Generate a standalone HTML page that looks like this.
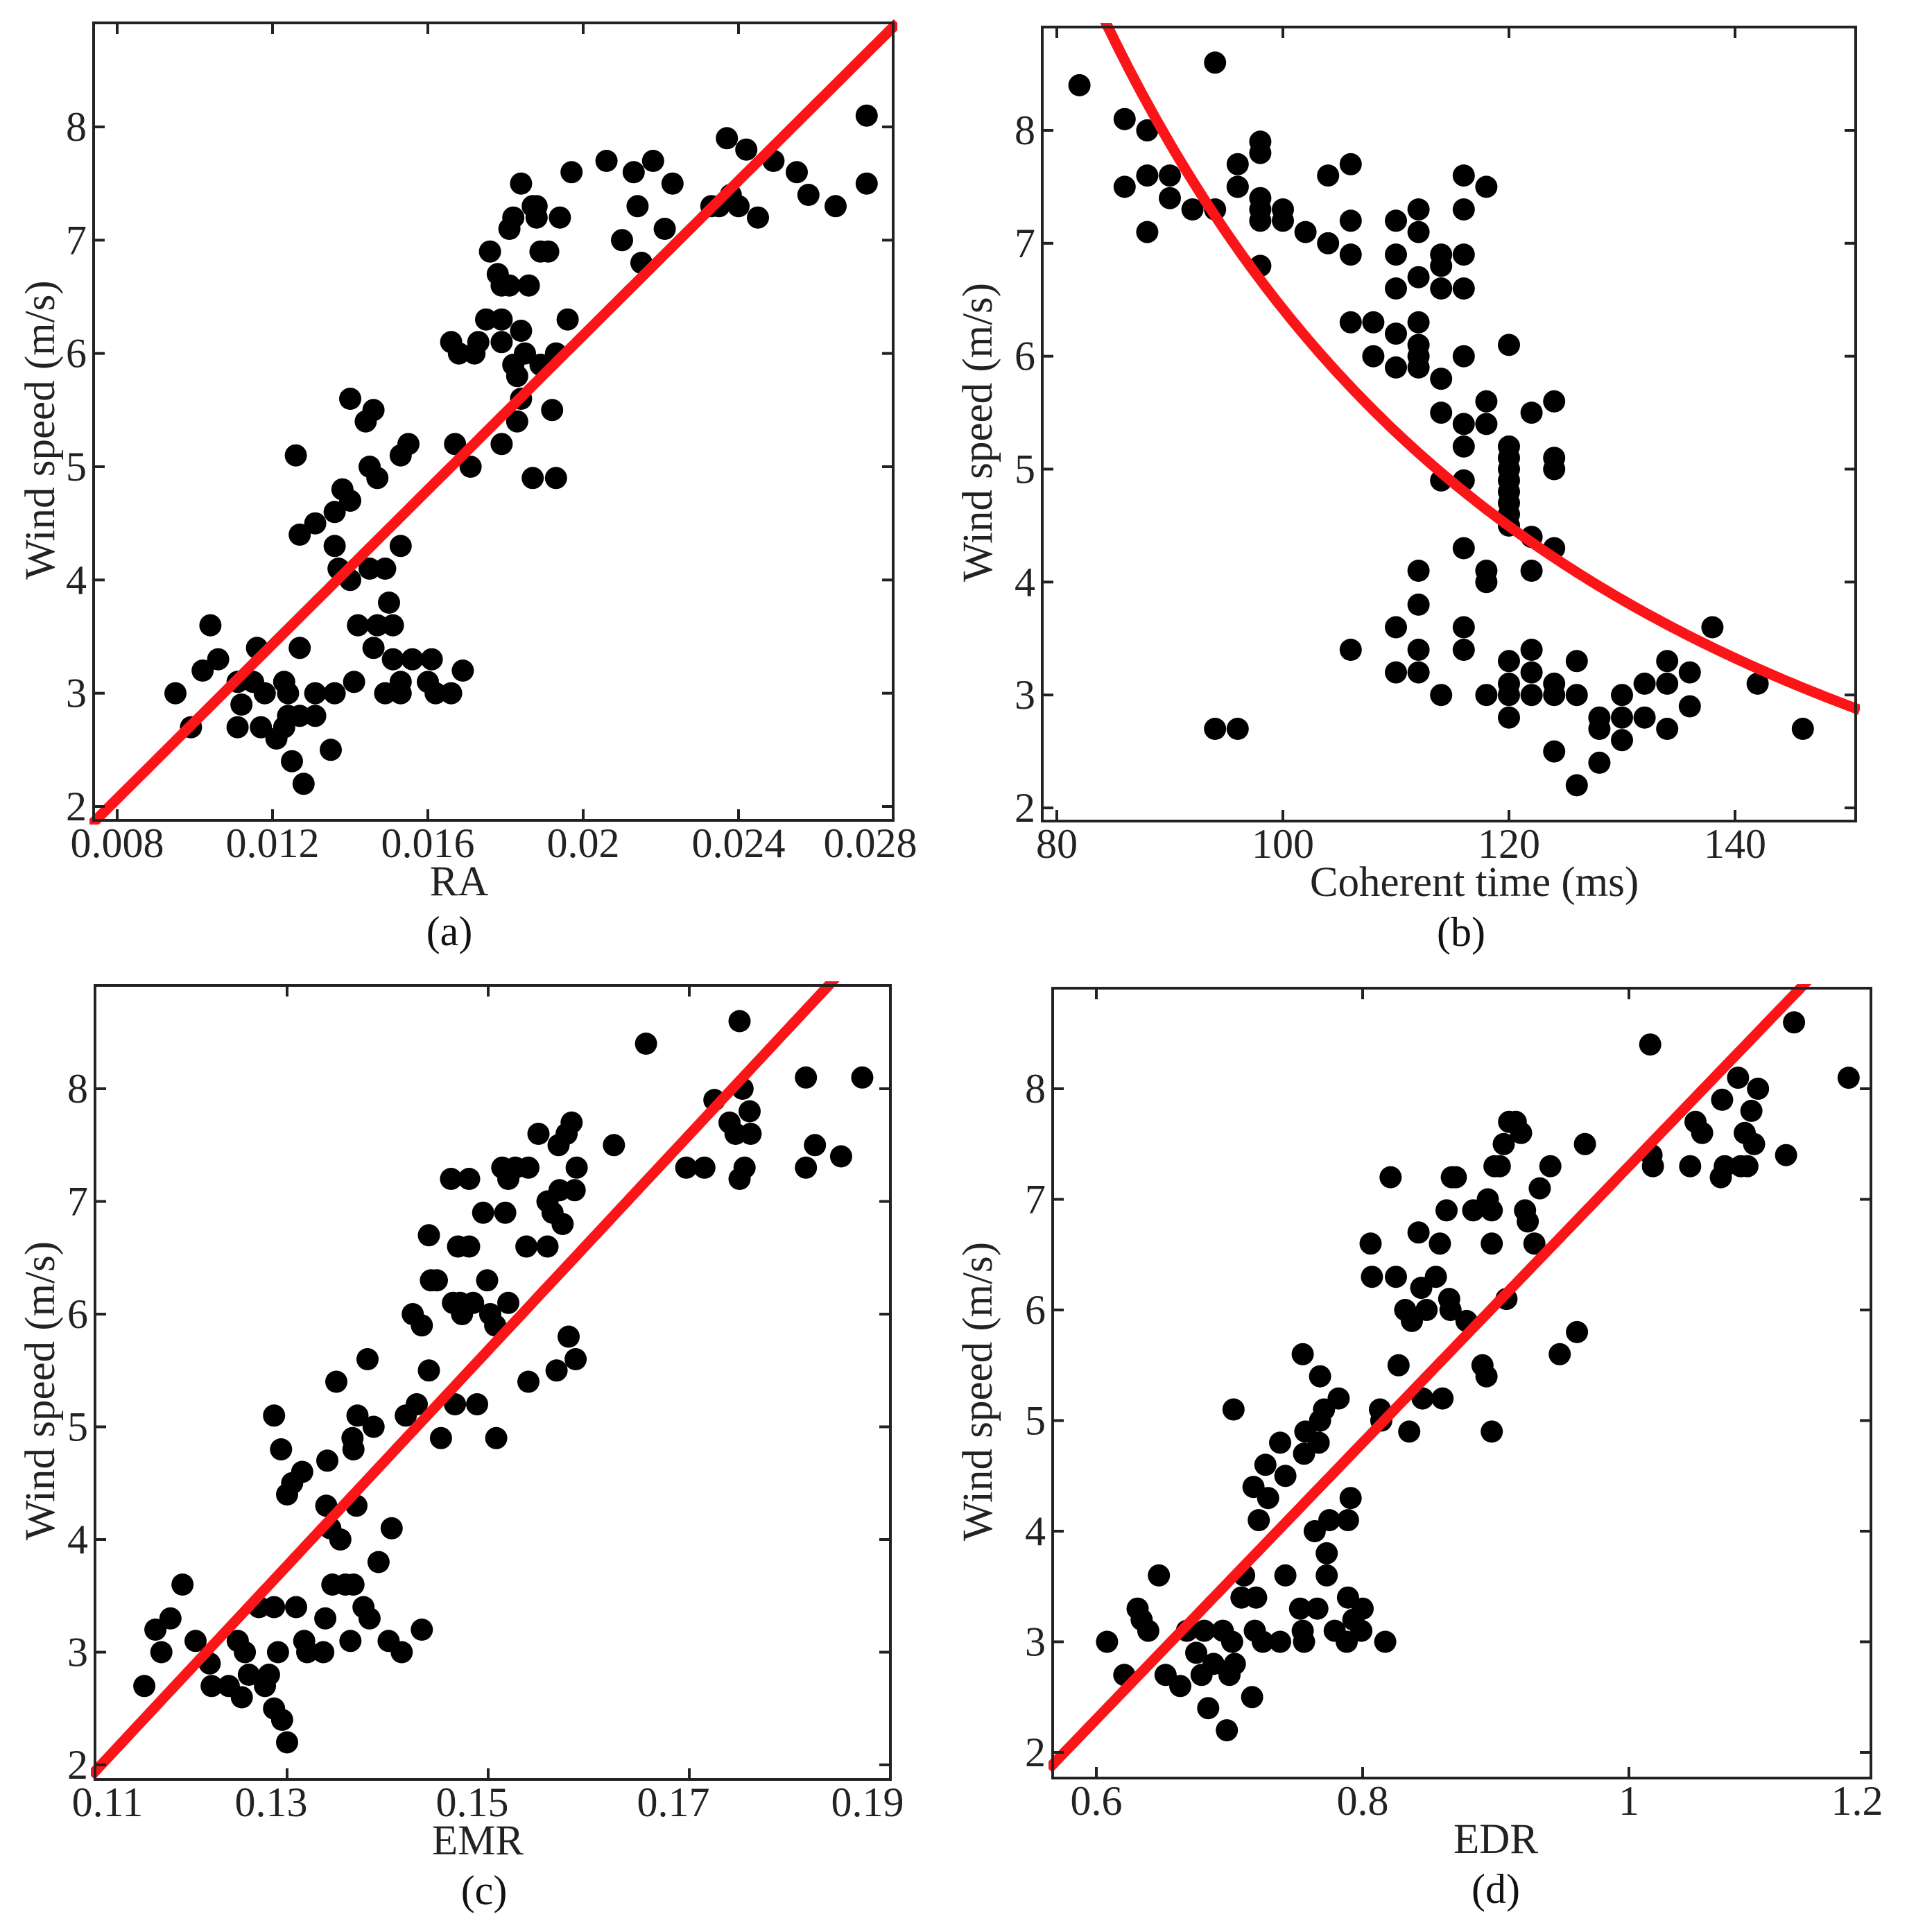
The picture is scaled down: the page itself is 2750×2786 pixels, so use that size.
<!DOCTYPE html>
<html><head><meta charset="utf-8">
<style>
html,body{margin:0;padding:0;background:#fff;}
svg{display:block;font-family:"Liberation Serif",serif;}
</style></head>
<body>
<svg id="fig" width="2750" height="2786" viewBox="0 0 2750 2786" xmlns="http://www.w3.org/2000/svg"></svg>
<script>
// ---- Panel (a): RA vs wind speed ----
const raX=[0.0095,0.0099,0.0102,0.0104,0.0106,0.0111,0.0112,0.0111,0.0116,0.0115,0.0118,0.0117,0.0121,0.0123,0.0123,0.0124,0.0124,0.0125,0.0128,0.0126,0.0127,0.0127,0.0127,0.0131,0.0131,0.0131,0.0135,0.0136,0.0136,0.0136,0.0137,0.0138,0.0140,0.0140,0.0140,0.0141,0.0142,0.0144,0.0145,0.0145,0.0146,0.0146,0.0147,0.0147,0.0149,0.0149,0.0150,0.0151,0.0151,0.0153,0.0153,0.0153,0.0153,0.0155,0.0156,0.0160,0.0161,0.0162,0.0166,0.0166,0.0167,0.0168,0.0169,0.0171,0.0172,0.0173,0.0175,0.0176,0.0178,0.0179,0.0179,0.0179,0.0179,0.0181,0.0181,0.0182,0.0182,0.0183,0.0183,0.0184,0.0184,0.0184,0.0185,0.0186,0.0187,0.0187,0.0188,0.0188,0.0189,0.0189,0.0191,0.0192,0.0193,0.0193,0.0194,0.0196,0.0197,0.0206,0.0210,0.0213,0.0214,0.0215,0.0218,0.0221,0.0223,0.0233,0.0235,0.0237,0.0238,0.0240,0.0242,0.0245,0.0249,0.0255,0.0258,0.0265,0.0273,0.0273];
const raY=[3.0,2.7,3.2,3.6,3.3,2.7,2.9,3.1,3.4,3.1,3.0,2.7,2.6,2.7,3.1,3.0,2.8,2.4,2.2,5.1,4.4,3.4,2.8,3.0,2.8,4.5,2.5,3.0,4.6,4.3,4.1,4.8,4.7,4.0,5.6,3.1,3.6,5.4,5.0,4.1,5.5,3.4,4.9,3.6,3.0,4.1,3.8,3.6,3.3,3.1,3.0,4.3,5.1,5.2,3.3,3.1,3.3,3.0,3.0,6.1,5.2,6.0,3.2,5.0,6.0,6.1,6.3,6.9,6.7,6.6,6.1,6.3,5.2,6.6,7.1,7.2,5.9,5.8,5.4,5.6,7.5,6.2,6.0,6.6,7.3,4.9,7.3,7.2,6.9,5.9,6.9,5.5,6.0,4.9,7.2,6.3,7.6,7.7,7.0,7.6,7.3,6.8,7.7,7.1,7.5,7.3,7.3,7.9,7.4,7.3,7.8,7.2,7.7,7.6,7.4,7.3,7.5,8.1];
const raTicks=[0.008,0.012,0.016,0.02,0.024,0.028];
const raTickLabels=["0.008","0.012","0.016","0.02","0.024","0.028"];
const raFit=[341,-0.66]; // slope, intercept

// ---- Panel (b): coherent time vs wind speed ----
const ctX=[82,86,86,88,88,88,90,90,92,94,94,94,96,96,96,96,98,98,98,98,98,98,100,100,102,104,104,106,106,106,106,106,108,108,
110,110,110,110,110,110,110,112,112,112,112,112,112,112,112,112,112,112,114,114,114,114,114,114,114,
116,116,116,116,116,116,116,116,116,116,116,118,118,118,118,118,118,
120,120,120,120,120,120,120,120,120,120,120,120,120,122,122,122,122,122,122,124,124,124,124,124,124,124,
126,126,126,128,128,128,130,130,130,132,132,134,134,134,136,136,138,142,146];
const ctY=[8.4,8.1,7.5,8.0,7.6,7.1,7.6,7.4,7.3,8.6,7.3,2.7,7.7,7.5,2.7,7.5,7.9,7.8,7.4,7.3,7.2,6.8,7.3,7.2,7.1,7.6,7.0,7.7,7.2,6.9,6.3,3.4,6.3,6.0,
7.2,6.9,6.6,6.2,5.9,3.6,3.2,7.3,7.1,6.7,6.3,6.1,6.0,5.9,4.1,3.8,3.4,3.2,6.9,6.8,6.6,5.8,5.5,4.9,3.0,
7.6,7.3,6.9,6.6,6.0,5.4,5.2,4.9,4.3,3.6,3.4,7.5,5.6,5.4,4.1,4.0,3.0,
6.1,5.2,5.1,5.0,4.9,4.8,4.7,4.6,4.5,3.3,3.1,3.0,2.8,5.5,4.4,4.1,3.4,3.2,3.0,5.6,5.1,5.0,4.3,3.1,3.0,2.5,
3.3,3.0,2.2,2.8,2.7,2.4,3.0,2.8,2.6,3.1,2.8,3.3,3.1,2.7,3.2,2.9,3.6,3.1,2.7];
const ctTicks=[80,100,120,140];
const ctTickLabels=["80","100","120","140"];
const ctFit=[8.92,84.5,-1.954]; // y = A*(x/x0)^p

// ---- Panel (c): EMR vs wind speed ----
const emrX=[0.1158,0.1169,0.1175,0.1184,0.1196,0.1209,0.1223,0.1225,0.1242,0.1251,0.1255,0.1258,0.1262,0.1272,0.1278,0.1282,0.1287,0.1287,0.1287,0.1291,0.1294,0.1295,0.1300,0.1300,0.1305,0.1309,0.1315,0.1317,0.1320,0.1336,0.1338,0.1339,0.1340,0.1343,0.1345,0.1349,0.1353,0.1358,0.1363,0.1365,0.1366,0.1366,0.1369,0.1370,0.1376,0.1380,0.1382,0.1386,0.1391,0.1401,0.1404,0.1414,0.1418,0.1425,0.1429,0.1434,0.1434,0.1441,0.1441,0.1443,0.1449,0.1453,0.1463,0.1465,0.1467,0.1470,0.1472,0.1474,0.1481,0.1481,0.1485,0.1489,0.1495,0.1499,0.1502,0.1507,0.1508,0.1514,0.1517,0.1520,0.1520,0.1527,0.1538,0.1540,0.1540,0.1550,0.1559,0.1559,0.1564,0.1568,0.1570,0.1571,0.1574,0.1578,0.1580,0.1583,0.1586,0.1587,0.1588,0.1625,0.1657,0.1697,0.1715,0.1725,0.1740,0.1746,0.1750,0.1750,0.1753,0.1755,0.1760,0.1761,0.1816,0.1816,0.1825,0.1851,0.1872];
const emrY=[2.7,3.2,3.0,3.3,3.6,3.1,2.9,2.7,2.7,3.1,2.6,3.0,2.8,3.4,2.7,2.8,5.1,3.4,2.5,3.0,4.8,2.4,2.2,4.4,4.5,3.4,4.6,3.1,3.0,3.0,3.3,4.3,4.7,4.1,3.6,5.4,4.0,3.6,3.1,4.9,4.8,3.6,4.3,5.1,3.4,5.6,3.3,5.0,3.8,3.1,4.1,3.0,5.1,6.0,5.2,5.9,3.2,6.7,5.5,6.3,6.3,4.9,7.2,6.1,5.2,6.6,6.1,6.0,6.6,7.2,6.1,5.2,6.9,6.3,6.0,5.9,4.9,7.3,6.9,7.2,6.1,7.3,6.6,7.3,5.4,7.6,7.0,6.6,6.9,5.5,7.5,7.1,6.8,7.6,5.8,7.7,7.1,5.6,7.3,7.5,8.4,7.3,7.3,7.9,7.7,7.6,8.6,7.2,8.0,7.3,7.8,7.6,8.1,7.3,7.5,7.4,8.1];
const emrTicks=[0.11,0.13,0.15,0.17,0.19];
const emrTickLabels=["0.11","0.13","0.15","0.17","0.19"];
const emrFit=[95.6,-8.66];

// ---- Panel (d): EDR vs wind speed ----
const edrX=[0.608,0.621,0.631,0.634,0.639,0.647,0.652,0.663,0.668,0.675,0.679,0.681,0.684,0.688,0.695,0.698,0.700,0.702,0.703,0.704,0.711,0.709,0.717,0.718,0.719,0.720,0.722,0.725,0.727,0.729,0.738,0.738,0.742,0.742,0.753,0.755,0.755,0.756,0.756,0.757,0.764,0.766,0.767,0.768,0.768,0.771,0.773,0.773,0.775,0.779,0.782,0.788,0.789,0.789,0.791,0.793,0.799,0.800,0.806,0.807,0.813,0.814,0.817,0.821,0.825,0.827,0.832,0.835,0.837,0.842,0.844,0.845,0.848,0.855,0.858,0.860,0.863,0.865,0.866,0.867,0.870,0.878,0.883,0.890,0.893,0.894,0.897,0.897,0.897,0.899,0.903,0.906,0.908,0.910,0.915,0.919,0.922,0.924,0.929,0.933,0.941,0.948,0.961,0.967,1.016,1.017,1.018,1.046,1.050,1.055,1.069,1.070,1.072,1.082,1.084,1.087,1.089,1.092,1.094,1.097,1.118,1.124,1.165];
const edrY=[3.0,2.7,3.3,3.2,3.1,3.6,2.7,2.6,3.1,2.9,2.7,3.1,2.4,2.8,3.1,2.2,2.7,3.0,5.1,2.8,3.6,3.4,2.5,4.4,3.1,3.4,4.1,3.0,4.6,4.3,3.0,4.8,4.5,3.6,3.3,5.6,3.1,3.0,4.7,4.9,4.0,3.3,4.8,5.4,5.0,5.1,3.8,3.6,4.1,3.1,5.2,3.0,4.1,3.4,4.3,3.2,3.1,3.3,6.6,6.3,5.1,5.0,3.0,7.2,6.3,5.5,6.0,4.9,5.9,6.7,6.2,5.2,6.0,6.3,6.6,5.2,6.9,6.1,6.0,7.2,7.2,5.9,6.9,5.5,5.4,7.0,6.9,4.9,6.6,7.3,7.3,7.5,6.1,7.7,7.7,7.6,6.9,6.8,6.6,7.1,7.3,5.6,5.8,7.5,8.4,7.4,7.3,7.3,7.7,7.6,7.2,7.9,7.3,8.1,7.3,7.6,7.3,7.8,7.5,8.0,7.4,8.6,8.1];
const edrTicks=[0.6,0.8,1.0,1.2];
const edrTickLabels=["0.6","0.8","1","1.2"];
const edrFit=[12.5,-5.2];

const yTicks=[2,3,4,5,6,7,8];
const yTickLabels=["2","3","4","5","6","7","8"];

const NS="http://www.w3.org/2000/svg";
const svg=document.getElementById('fig');
function mk(tag,attrs,parent){const e=document.createElementNS(NS,tag);for(const k in attrs)e.setAttribute(k,attrs[k]);parent.appendChild(e);return e;}

const panels=[
 {key:'a',box:[135,33,1288,1183],xv:[0.008,0.028],xp:[169,1289],yv:[2,8],yp:[1163,183],xs:raX,ys:raY,ticks:raTicks,tl:raTickLabels,lblShift:0,rPad:33,
  fit:x=>raFit[0]*x+raFit[1],title:'RA',tx:662,cap:'(a)',cx:648,ytx:58},
 {key:'b',box:[1503,39,2676,1184],xv:[80,140],xp:[1524,2502],yv:[2,8],yp:[1165,188],xs:ctX,ys:ctY,ticks:ctTicks,tl:ctTickLabels,lblShift:0,rPad:33,
  fit:x=>ctFit[0]*Math.pow(x/ctFit[1],ctFit[2]),title:'Coherent time (ms)',tx:2126,cap:'(b)',cx:2107,ytx:1410},
 {key:'c',box:[137,1421,1284,2566],xv:[0.13,0.17],xp:[414,994],yv:[2,8],yp:[2545,1570],xs:emrX,ys:emrY,ticks:emrTicks,tl:emrTickLabels,lblShift:-23,rPad:33,
  fit:x=>emrFit[0]*x+emrFit[1],title:'EMR',tx:689,cap:'(c)',cx:698,ytx:58},
 {key:'d',box:[1518,1425,2698,2564],xv:[0.6,1.0],xp:[1581,2349],yv:[2,8],yp:[2527,1570],xs:edrX,ys:edrY,ticks:edrTicks,tl:edrTickLabels,lblShift:0,rPad:20,
  fit:x=>edrFit[0]*x+edrFit[1],title:'EDR',tx:2157,cap:'(d)',cx:2157,ytx:1410}
];

panels.forEach(p=>{
  const [L,T,R,B]=p.box;
  const sx=v=>p.xp[0]+(v-p.xv[0])*(p.xp[1]-p.xp[0])/(p.xv[1]-p.xv[0]);
  const sy=v=>p.yp[0]+(v-p.yv[0])*(p.yp[1]-p.yp[0])/(p.yv[1]-p.yv[0]);
  const g=mk('g',{},svg);
  
  
  const clip=mk('clipPath',{id:'clip-'+p.key},g);
  mk('rect',{x:L-6,y:T-6,width:R-L+12,height:B-T+12},clip);

  const pts=mk('g',{},g);
  
  
  for(let i=0;i<p.xs.length;i++){
    const c=mk('circle',{cx:sx(p.xs[i]).toFixed(1),cy:sy(p.ys[i]).toFixed(1),r:16,fill:'#000'},pts);
    
    
  }
  const x0=p.xv[0]+(L-6-p.xp[0])*(p.xv[1]-p.xv[0])/(p.xp[1]-p.xp[0]);
  const x1=p.xv[0]+(R+6-p.xp[0])*(p.xv[1]-p.xv[0])/(p.xp[1]-p.xp[0]);
  let d='';
  for(let k=0;k<=200;k++){const xv=x0+(x1-x0)*k/200;d+=(k?'L':'M')+sx(xv).toFixed(1)+' '+sy(p.fit(xv)).toFixed(1);}
  const fl=mk('path',{d:d,fill:'none',stroke:'#fb1518','stroke-width':15,'clip-path':'url(#clip-'+p.key+')'},g);
  
  

  const fr=mk('rect',{x:L,y:T,width:R-L,height:B-T,fill:'none',stroke:'#222','stroke-width':4},g);
  
  

  p.ticks.forEach((tv,i)=>{
    const x=sx(tv);
    if(x>L+2&&x<R-2){
      mk('line',{x1:x,y1:B,x2:x,y2:B-16,stroke:'#222','stroke-width':4},g);
      mk('line',{x1:x,y1:T,x2:x,y2:T+16,stroke:'#222','stroke-width':4},g);
    }
    let lx=Math.min(Math.max(x+p.lblShift,L+18),R-p.rPad);
    const t=mk('text',{x:lx,y:B+53,'font-size':60,'text-anchor':'middle',fill:'#222'},g);
    t.textContent=p.tl[i];
    
    
  });
  yTicks.forEach((tv,i)=>{
    const y=sy(tv);
    mk('line',{x1:L,y1:y,x2:L+16,y2:y,stroke:'#222','stroke-width':4},g);
    mk('line',{x1:R,y1:y,x2:R-16,y2:y,stroke:'#222','stroke-width':4},g);
    const t=mk('text',{x:L-10,y:y+20,'font-size':60,'text-anchor':'end',fill:'#222'},g);
    t.textContent=yTickLabels[i];
    
    
  });
  const xt=mk('text',{x:p.tx,y:B+108,'font-size':61,'text-anchor':'middle',fill:'#222'},g);
  xt.textContent=p.title;
  
  
  const cy=(T+B)/2+12;
  const yt=mk('text',{x:p.ytx,y:cy,'font-size':61,'text-anchor':'middle',fill:'#222',transform:'rotate(-90 '+p.ytx+' '+cy+') translate(0 20)'},g);
  yt.textContent='Wind speed (m/s)';
  
  
  const cp=mk('text',{x:p.cx,y:B+180,'font-size':60,'text-anchor':'middle',fill:'#111'},g);
  cp.textContent=p.cap;
  
  
});
</script>
</body></html>
